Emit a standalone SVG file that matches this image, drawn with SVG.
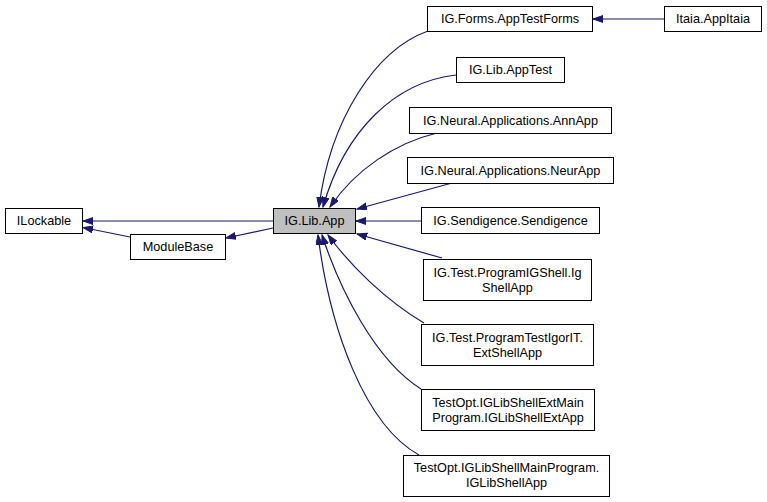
<svg xmlns="http://www.w3.org/2000/svg" width="767" height="502" viewBox="0 0 767 502">
<style>
.node rect{fill:#ffffff;stroke:#000000;stroke-width:1}
.node.cur rect{fill:#bfbfbf}
.node text{font-family:"Liberation Sans",Arial,sans-serif;font-size:12.7px;fill:#000000;text-anchor:middle}
.edge{fill:none;stroke:#191970;stroke-width:1.2;marker-end:url(#arr)}
</style>
<defs>
<marker id="arr" markerUnits="userSpaceOnUse" markerWidth="11" markerHeight="8" refX="10" refY="3.5" orient="auto" viewBox="0 0 11 8">
<path d="M0,0 L10,3.5 L0,7 z" fill="#191970" stroke="#191970" stroke-width="1"/>
</marker>
</defs>
<rect width="767" height="502" fill="#ffffff"/>
<g id="connectors">
<path class="edge" d="M273,221 L83,221"/>
<path class="edge" d="M130,237 L83,227.5"/>
<path class="edge" d="M273,228 L226,238"/>
<path class="edge" d="M664,19 L593,19"/>
<path class="edge" d="M428,31 C375,50 330,120 319,207"/>
<path class="edge" d="M456,75 C395,82 345,130 323,207"/>
<path class="edge" d="M437,133 C395,143 355,170 330,207"/>
<path class="edge" d="M452,183 L357,209"/>
<path class="edge" d="M421,221 L356,221"/>
<path class="edge" d="M442,258 L357,234"/>
<path class="edge" d="M424,323 C385,300 350,265 328,235"/>
<path class="edge" d="M421,389 C375,360 340,290 322,235"/>
<path class="edge" d="M419,455 C365,425 330,330 318,235"/>
</g>
<g id="ILockable" class="node"><rect x="5.5" y="208.5" width="77" height="25"/><text x="44" y="225">ILockable</text></g>
<g id="ModuleBase" class="node"><rect x="130.5" y="234.5" width="95" height="25"/><text x="178" y="251">ModuleBase</text></g>
<g id="IG.Lib.App" class="node cur"><rect x="273.5" y="208.5" width="82" height="25"/><text x="314.5" y="225">IG.Lib.App</text></g>
<g id="IG.Forms.AppTestForms" class="node"><rect x="427.5" y="6.5" width="165" height="25"/><text x="510" y="23">IG.Forms.AppTestForms</text></g>
<g id="Itaia.AppItaia" class="node"><rect x="664.5" y="6.5" width="97" height="25"/><text x="713" y="23">Itaia.AppItaia</text></g>
<g id="IG.Lib.AppTest" class="node"><rect x="456.5" y="57.5" width="108" height="25"/><text x="510.5" y="74">IG.Lib.AppTest</text></g>
<g id="IG.Neural.Applications.AnnApp" class="node"><rect x="409.5" y="107.5" width="202" height="26"/><text x="510.5" y="125">IG.Neural.Applications.AnnApp</text></g>
<g id="IG.Neural.Applications.NeurApp" class="node"><rect x="407.5" y="157.5" width="206" height="26"/><text x="510.5" y="175">IG.Neural.Applications.NeurApp</text></g>
<g id="IG.Sendigence.Sendigence" class="node"><rect x="421.5" y="207.5" width="178" height="26"/><text x="510.5" y="225">IG.Sendigence.Sendigence</text></g>
<g id="IG.Test.ProgramIGShell.IgShellApp" class="node"><rect x="423.5" y="259.5" width="168" height="41"/><text x="507.5" y="276.5">IG.Test.ProgramIGShell.Ig</text><text x="507.5" y="291.5">ShellApp</text></g>
<g id="IG.Test.ProgramTestIgorIT.ExtShellApp" class="node"><rect x="421.5" y="324.5" width="172" height="41"/><text x="507.5" y="341.5">IG.Test.ProgramTestIgorIT.</text><text x="507.5" y="356.5">ExtShellApp</text></g>
<g id="TestOpt.IGLibShellExtMainProgram.IGLibShellExtApp" class="node"><rect x="421.5" y="389.5" width="173" height="41"/><text x="508" y="406.5">TestOpt.IGLibShellExtMain</text><text x="508" y="421.5">Program.IGLibShellExtApp</text></g>
<g id="TestOpt.IGLibShellMainProgram.IGLibShellApp" class="node"><rect x="403.5" y="455.5" width="206" height="41"/><text x="506.5" y="471.5">TestOpt.IGLibShellMainProgram.</text><text x="506.5" y="486.5">IGLibShellApp</text></g>
</svg>
